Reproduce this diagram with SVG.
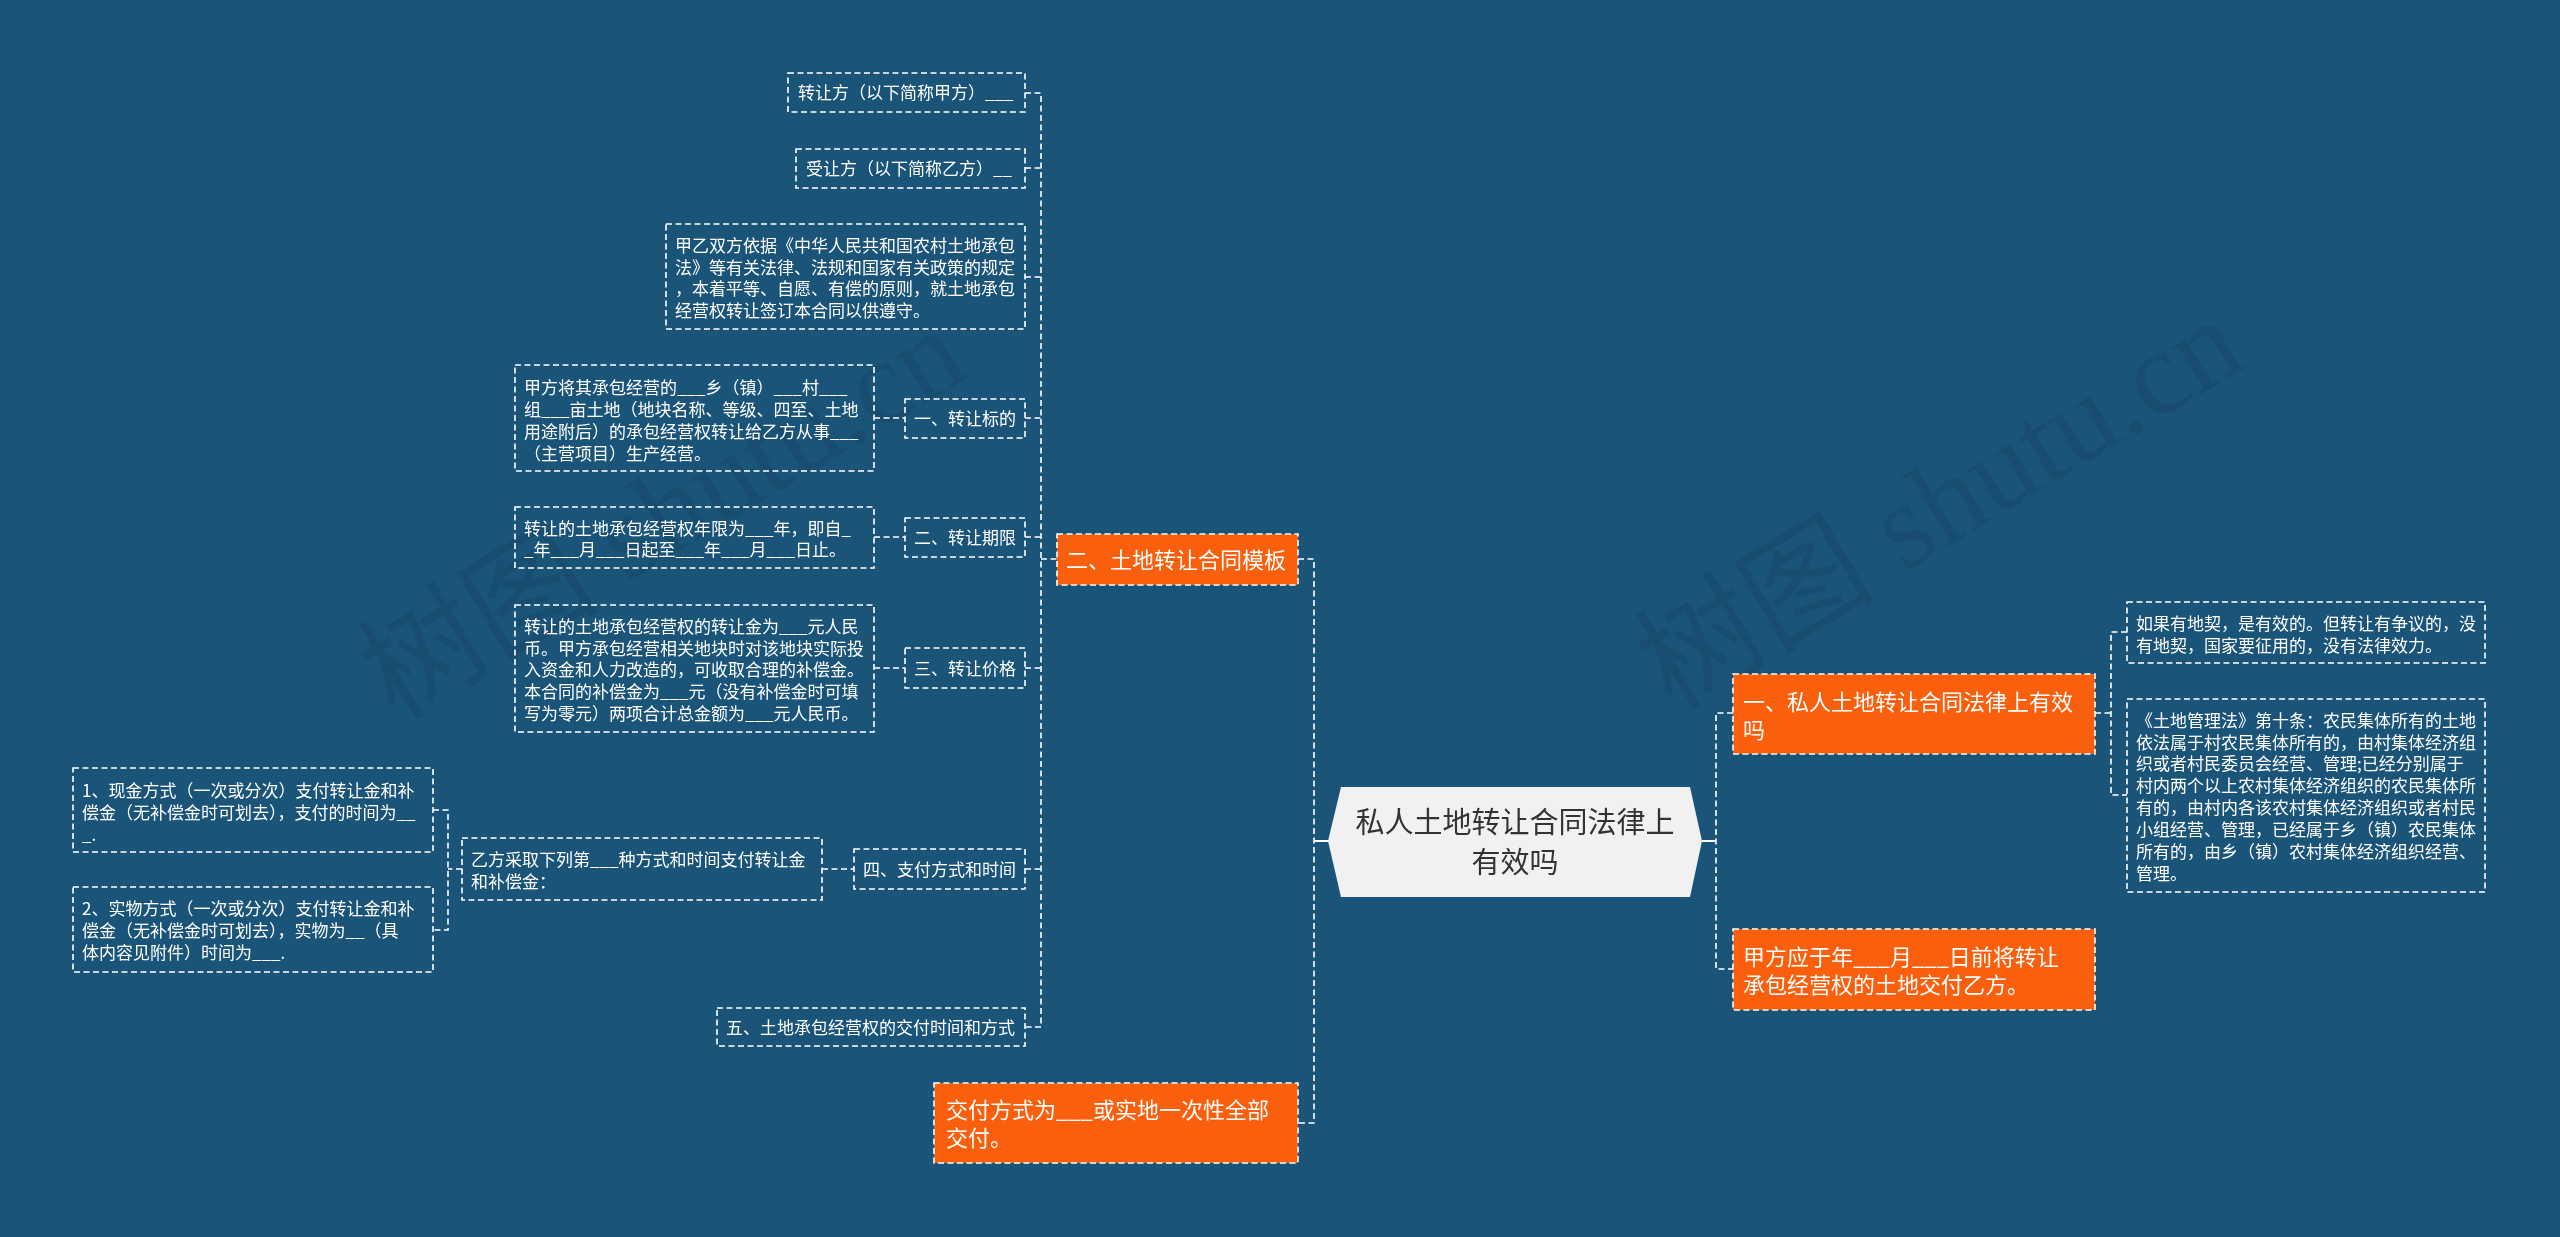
<svg xmlns="http://www.w3.org/2000/svg" width="2560" height="1237" viewBox="0 0 2560 1237">
<style>
.box{fill:none;stroke:#fff;stroke-width:1.6;stroke-dasharray:6 3.5}
.org{fill:#f95f0c;stroke:#fff;stroke-width:1.6;stroke-dasharray:6 3.5}
.t{fill:#fff;font-family:"Noto Sans CJK SC","Noto Sans",sans-serif;font-size:17px}
.to{fill:#fff;font-family:"Noto Sans CJK SC","Noto Sans",sans-serif;font-size:22px}
.tc{fill:#333;font-family:"Noto Sans CJK SC","Noto Sans",sans-serif;font-size:29px}
.conn path{fill:none;stroke:#fff;stroke-width:1.6;stroke-dasharray:6 3.5}
.conn .solid{stroke-dasharray:none;stroke-width:2}
.wm{fill:#000;opacity:0.075;font-size:120px}
</style>
<rect width="2560" height="1237" fill="#1a5479"/>
<g class="wm">
<text transform="translate(395,722) rotate(-31)"><tspan font-family="Noto Sans CJK SC,sans-serif">树图</tspan><tspan font-family="Liberation Serif,serif"> shutu.cn</tspan></text>
<text transform="translate(1672,712) rotate(-31)"><tspan font-family="Noto Sans CJK SC,sans-serif">树图</tspan><tspan font-family="Liberation Serif,serif"> shutu.cn</tspan></text>
</g>
<g class="conn">
<path d="M1025,93 H1041 V1027 H1025"/>
<path d="M1025,168 H1041"/>
<path d="M1025,277 H1041"/>
<path d="M1025,418 H1041"/>
<path d="M1025,537 H1041"/>
<path d="M1025,668 H1041"/>
<path d="M1025,869 H1041"/>
<path d="M1041,559 H1057"/>
<path d="M874,418 H905"/>
<path d="M874,537 H905"/>
<path d="M874,668 H905"/>
<path d="M822,869 H854"/>
<path d="M462,869 H448"/>
<path d="M433,810 H448 V930 H433"/>
<path d="M1298,559 H1314 V1123 H1298"/>
<path class="solid" d="M1314,841 H1329"/>
<path class="solid" d="M1702,841 H1716"/>
<path d="M1733,713 H1716 V969 H1733"/>
<path d="M2095,713 H2111"/>
<path d="M2127,632 H2111 V795 H2127"/>
</g>
<g id="center">
<polygon points="1341,787 1690,787 1702,841 1690,897 1341,897 1328,841" fill="#f1f1f1"/>
<text class="tc" text-anchor="middle"><tspan x="1515" y="833">私人土地转让合同法律上</tspan><tspan x="1515" y="873">有效吗</tspan></text>
</g>
<g id="n-template">
<rect class="org" x="1057" y="534" width="241" height="51"/>
<text class="to"><tspan x="1066" y="568">二、土地转让合同模板</tspan></text>
</g>
<g id="n-zhuanrangfang">
<rect class="box" x="788" y="73" width="237" height="39"/>
<text class="t"><tspan x="798" y="99">转让方（以下简称甲方）___</tspan></text>
</g>
<g id="n-shourangfang">
<rect class="box" x="796" y="149" width="229" height="39"/>
<text class="t"><tspan x="806" y="175">受让方（以下简称乙方）__</tspan></text>
</g>
<g id="n-yiju">
<rect class="box" x="666" y="224" width="359" height="105"/>
<text class="t"><tspan x="675" y="251.5">甲乙双方依据《中华人民共和国农村土地承包</tspan><tspan x="675" y="273.5">法》等有关法律、法规和国家有关政策的规定</tspan><tspan x="675" y="294.5">，本着平等、自愿、有偿的原则，就土地承包</tspan><tspan x="675" y="316.5">经营权转让签订本合同以供遵守。</tspan></text>
</g>
<g id="n-biaodi">
<rect class="box" x="905" y="399" width="120" height="39"/>
<text class="t"><tspan x="914" y="424.5">一、转让标的</tspan></text>
</g>
<g id="n-biaodi-c">
<rect class="box" x="515" y="365" width="359" height="106"/>
<text class="t"><tspan x="524" y="393.5">甲方将其承包经营的___乡（镇）___村___</tspan><tspan x="524" y="415.5">组___亩土地（地块名称、等级、四至、土地</tspan><tspan x="524" y="437.5">用途附后）的承包经营权转让给乙方从事___</tspan><tspan x="524" y="459.5">（主营项目）生产经营。</tspan></text>
</g>
<g id="n-qixian">
<rect class="box" x="905" y="518" width="120" height="39"/>
<text class="t"><tspan x="914" y="543.5">二、转让期限</tspan></text>
</g>
<g id="n-qixian-c">
<rect class="box" x="515" y="507" width="359" height="61"/>
<text class="t"><tspan x="524" y="534.5">转让的土地承包经营权年限为___年，即自_</tspan><tspan x="524" y="555.5">_年___月___日起至___年___月___日止。</tspan></text>
</g>
<g id="n-jiage">
<rect class="box" x="905" y="648" width="120" height="40"/>
<text class="t"><tspan x="914" y="674.5">三、转让价格</tspan></text>
</g>
<g id="n-jiage-c">
<rect class="box" x="515" y="605" width="359" height="127"/>
<text class="t"><tspan x="524" y="632.5">转让的土地承包经营权的转让金为___元人民</tspan><tspan x="524" y="654.5">币。甲方承包经营相关地块时对该地块实际投</tspan><tspan x="524" y="675.5">入资金和人力改造的，可收取合理的补偿金。</tspan><tspan x="524" y="697.5">本合同的补偿金为___元（没有补偿金时可填</tspan><tspan x="524" y="719.5">写为零元）两项合计总金额为___元人民币。</tspan></text>
</g>
<g id="n-zhifu">
<rect class="box" x="854" y="849" width="171" height="40"/>
<text class="t"><tspan x="863" y="875.5">四、支付方式和时间</tspan></text>
</g>
<g id="n-zhifu-c">
<rect class="box" x="462" y="838" width="360" height="62"/>
<text class="t"><tspan x="471" y="865.5">乙方采取下列第___种方式和时间支付转让金</tspan><tspan x="471" y="887.5">和补偿金：</tspan></text>
</g>
<g id="n-xianjin">
<rect class="box" x="73" y="768" width="360" height="84"/>
<text class="t"><tspan x="82" y="796.5">1、现金方式（一次或分次）支付转让金和补</tspan><tspan x="82" y="818.5">偿金（无补偿金时可划去），支付的时间为__</tspan><tspan x="82" y="840.5">_.</tspan></text>
</g>
<g id="n-shiwu">
<rect class="box" x="73" y="887" width="360" height="85"/>
<text class="t"><tspan x="82" y="914.5">2、实物方式（一次或分次）支付转让金和补</tspan><tspan x="82" y="936.5">偿金（无补偿金时可划去），实物为__（具</tspan><tspan x="82" y="958.5">体内容见附件）时间为___.</tspan></text>
</g>
<g id="n-jiaofu">
<rect class="box" x="717" y="1008" width="308" height="38"/>
<text class="t"><tspan x="726" y="1033.5">五、土地承包经营权的交付时间和方式</tspan></text>
</g>
<g id="n-jiaofufangshi">
<rect class="org" x="934" y="1083" width="364" height="80"/>
<text class="to"><tspan x="946" y="1118">交付方式为___或实地一次性全部</tspan><tspan x="946" y="1146">交付。</tspan></text>
</g>
<g id="n-youxiao">
<rect class="org" x="1733" y="674" width="362" height="80"/>
<text class="to"><tspan x="1743" y="710">一、私人土地转让合同法律上有效</tspan><tspan x="1743" y="738">吗</tspan></text>
</g>
<g id="n-diqi">
<rect class="box" x="2127" y="602" width="358" height="61"/>
<text class="t"><tspan x="2136" y="629.5">如果有地契，是有效的。但转让有争议的，没</tspan><tspan x="2136" y="651.5">有地契，国家要征用的，没有法律效力。</tspan></text>
</g>
<g id="n-guanlifa">
<rect class="box" x="2127" y="699" width="358" height="193"/>
<text class="t"><tspan x="2136" y="726.5">《土地管理法》第十条：农民集体所有的土地</tspan><tspan x="2136" y="748.5">依法属于村农民集体所有的，由村集体经济组</tspan><tspan x="2136" y="769.5">织或者村民委员会经营、管理;已经分别属于</tspan><tspan x="2136" y="791.5">村内两个以上农村集体经济组织的农民集体所</tspan><tspan x="2136" y="813.5">有的，由村内各该农村集体经济组织或者村民</tspan><tspan x="2136" y="835.5">小组经营、管理，已经属于乡（镇）农民集体</tspan><tspan x="2136" y="857.5">所有的，由乡（镇）农村集体经济组织经营、</tspan><tspan x="2136" y="879.5">管理。</tspan></text>
</g>
<g id="n-jiaofutudi">
<rect class="org" x="1733" y="929" width="362" height="81"/>
<text class="to"><tspan x="1743" y="965">甲方应于年___月___日前将转让</tspan><tspan x="1743" y="993">承包经营权的土地交付乙方。</tspan></text>
</g>
</svg>
